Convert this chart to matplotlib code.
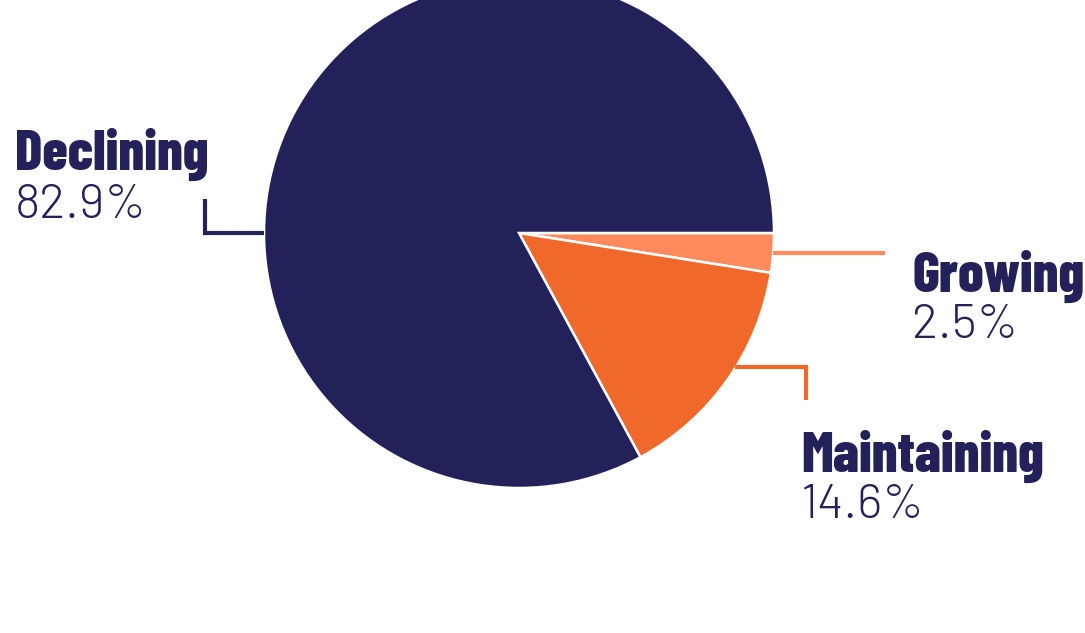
import matplotlib
matplotlib.use("Agg")
from matplotlib import pyplot as plt
from matplotlib import font_manager
from matplotlib.textpath import TextPath

categories = ["Growing", "Maintaining", "Declining"]
shares = [2.5, 14.6, 82.9]
colors = ["#FF8A5B", "#F0692A", "#22215A"]
pct_labels = ["2.5%", "14.6%", "82.9%"]

NAVY = "#22215A"
W, H = 1085, 633


def weight_num(w):
    if isinstance(w, (int, float)):
        return w
    return font_manager.weight_dict.get(str(w), 400)


def text_width(fp, s):
    return TextPath((0, 0), s, prop=fp).get_extents().width


# the reference uses a narrow bold display face: pick the installed bold face
# whose "Declining" width / "D" height is closest to the reference (~4.75)
target = 195 / 41
best = None
for f in font_manager.fontManager.ttflist:
    if weight_num(f.weight) < 700 or f.style != "normal":
        continue
    if "CJK" in f.name or "Mono" in f.name:
        continue
    try:
        fp = font_manager.FontProperties(fname=f.fname, size=100)
        wd = text_width(fp, "Declining")
        cap = TextPath((0, 0), "D", prop=fp).get_extents().height
    except Exception:
        continue
    if cap <= 0:
        continue
    score = abs(wd / cap - target)
    if best is None or score < best[0]:
        best = (score, f, wd)

title_fp = font_manager.FontProperties(fname=best[1].fname)
# size so that "Declining" is about 190 px wide (1 pt = 100/72 px)
title_fp.set_size(190 / (best[2] / 100) * 72 / 100)

# percentages: a light face of the same family if there is one
base = best[1].name.replace(" Condensed", "").replace(" Semi", "").strip()
pct_entry = None
for f in font_manager.fontManager.ttflist:
    if f.name == base and f.style == "normal" and 300 <= weight_num(f.weight) <= 400:
        if pct_entry is None or weight_num(f.weight) < weight_num(pct_entry.weight):
            pct_entry = f
if pct_entry is not None:
    pct_fp = font_manager.FontProperties(fname=pct_entry.fname)
else:
    pct_fp = font_manager.FontProperties(family="Roboto", weight="normal")
w100 = text_width(font_manager.FontProperties(fname=font_manager.findfont(pct_fp), size=100), "82.9%")
pct_fp.set_size(124 / (w100 / 100) * 72 / 100)


def Y(y):
    # pixel rows are measured from the top
    return H - y


fig = plt.figure(figsize=(W / 100, H / 100), dpi=100)
ax = fig.add_axes([0, 0, 1, 1])

ax.pie(
    shares,
    colors=colors,
    startangle=0,
    counterclock=False,
    center=(519, Y(233)),
    radius=255,
    wedgeprops=dict(edgecolor="white", linewidth=1.8),
    frame=True,
)
ax.set_xlim(0, W)
ax.set_ylim(0, H)
ax.set_aspect("auto")
ax.axis("off")

# leader lines
lw = 3
ax.plot([205, 205, 264], [Y(199), Y(233), Y(233)], color=colors[2], lw=lw,
        solid_capstyle="butt", solid_joinstyle="miter")
ax.plot([773, 885], [Y(253), Y(253)], color=colors[0], lw=lw, solid_capstyle="butt")
ax.plot([735, 806, 806], [Y(367), Y(367), Y(400)], color=colors[1], lw=lw,
        solid_capstyle="butt", solid_joinstyle="miter")

# labels: (name x, name baseline, pct baseline)
label_pos = {
    "Declining": (15, 170, 218),
    "Growing": (912, 292, 338),
    "Maintaining": (801, 472, 518),
}
for cat, pct in zip(categories, pct_labels):
    x, yb, yp = label_pos[cat]
    ax.text(x, Y(yb), cat, fontproperties=title_fp, color=NAVY,
            ha="left", va="baseline")
    ax.text(x, Y(yp), pct, fontproperties=pct_fp, color=NAVY,
            ha="left", va="baseline")

fig.savefig("out.png", dpi=100)
